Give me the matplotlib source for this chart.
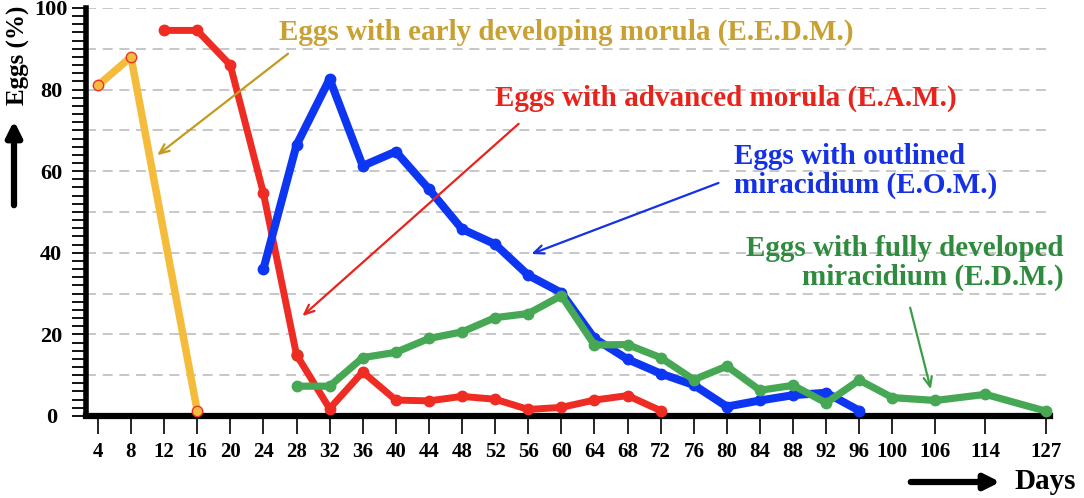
import matplotlib.pyplot as plt
import numpy as np

# dias mostrados no eixo x
day_ticks = [4, 8, 12, 16, 20, 24, 28, 32, 36, 40, 44, 48, 52, 56, 60, 64,
             68, 72, 76, 80, 84, 88, 92, 96, 100, 106, 114, 127]

# E.E.D.M.
eedm_days = [4, 8, 16]
eedm_vals = [81, 88, 1.3]

# E.A.M.
eam_days = [12, 16, 20, 24, 28, 32, 36, 40, 44, 48, 52, 56, 60, 64, 68, 72]
eam_vals = [94.5, 94.5, 86, 54.6, 15, 1.8, 10.8, 3.9, 3.7, 4.8, 4.1, 1.6, 2.1, 3.9, 5.0, 1.3]

# E.O.M.
eom_days = [24, 28, 32, 36, 40, 44, 48, 52, 56, 60, 64, 68, 72, 76, 80, 84, 88, 92, 96]
eom_vals = [36, 66.4, 82.6, 61.3, 64.8, 55.6, 45.8, 42.1, 34.5, 30.2, 19, 13.9, 10.4,
            7.6, 2.3, 3.8, 5.1, 5.7, 1.3]

# E.D.M.
edm_days = [28, 32, 36, 40, 44, 48, 52, 56, 60, 64, 68, 72, 76, 80, 84, 88, 92, 96,
            100, 106, 114, 127]
edm_vals = [7.3, 7.3, 14.3, 15.6, 19, 20.6, 24.1, 25.1, 29.5, 17.4, 17.5, 14.3, 8.9,
            12.2, 6.3, 7.5, 3.2, 8.8, 4.5, 3.8, 5.3, 1.2]

# espacamento entre marcas (os ultimos dias ficam mais apertados)
tick_gap = [0] + [1] * 24 + [1.3, 1.51, 1.82]
tick_pos = np.cumsum(tick_gap)
xpos = dict(zip(day_ticks, tick_pos))

serif = 'Liberation Serif'

fig = plt.figure(figsize=(10.84, 4.98), dpi=100)
ax = fig.add_axes([0.0793, 0.1647, 0.889, 0.8193])

ax.set_xlim(-0.36, tick_pos[-1] + 0.12)
ax.set_ylim(0, 100)

# grade tracejada
for g in range(10, 101, 10):
    ax.axhline(g, color='#bdbdbd', lw=1.2, ls=(0, (6, 4)), zorder=0)

series = [
    (eedm_days, eedm_vals, '#F5BC3C', '#E8332A', 5.4),
    (eam_days, eam_vals, '#EE2C24', '#EE2C24', 5.0),
    (eom_days, eom_vals, '#0D36F2', '#0D36F2', 5.8),
    (edm_days, edm_vals, '#46A854', '#46A854', 5.2),
]
for days, vals, col, edge, lw in series:
    xs = [xpos[d] for d in days]
    ax.plot(xs, vals, color=col, lw=lw, marker='o', ms=7.5, mfc=col, mec=edge,
            mew=1.0, solid_joinstyle='round', solid_capstyle='round',
            clip_on=False, zorder=3)

# ponto verde escondido sob o vermelho no dia 28
ax.plot(xpos[28], 15, 'o', color='#46A854', ms=8, zorder=2)

# eixos
for side in ['top', 'right']:
    ax.spines[side].set_visible(False)
ax.spines['left'].set_linewidth(4.0)
ax.spines['bottom'].set_linewidth(4.5)

ax.set_xticks(tick_pos)
ax.set_xticklabels([str(d) for d in day_ticks])
ax.set_yticks(range(0, 101, 20))
ax.set_yticks(range(0, 101, 2), minor=True)
ax.tick_params(axis='x', direction='out', length=13, width=1.2, pad=6)
ax.tick_params(axis='y', which='both', direction='out', length=10, width=1.3, pad=15)
for lab in ax.get_xticklabels() + ax.get_yticklabels():
    lab.set_family(serif)
    lab.set_fontweight('bold')
    lab.set_fontsize(15)
for lab in ax.get_yticklabels():
    lab.set_fontsize(16)
    lab.set_ha('center')

# rotulos com setas
def px(x, y):
    # converte pixel da figura em coordenada de dados
    return ((x - 98) / 33.04, (416 - y) / 4.08)

notes = [
    ('Eggs with early developing morula (E.E.D.M.)', '#C9A032', '#C49A1E',
     px(565, 32), 'center', px(290, 52), px(155, 157)),
    ('Eggs with advanced morula (E.A.M.)', '#E8231C', '#E8231C',
     px(725, 98), 'center', px(520, 122), px(300, 318)),
    ('Eggs with outlined\nmiracidium (E.O.M.)', '#1431E6', '#1431E6',
     px(733, 171), 'left', px(720, 182), px(528, 255)),
    ('Eggs with fully developed\nmiracidium (E.D.M.)', '#2F8C3E', '#3C9C48',
     px(1062, 263), 'right', px(908, 305), px(930, 392)),
]
for txt, tcol, acol, tpos, ha, a0, a1 in notes:
    ax.text(tpos[0], tpos[1], txt, color=tcol, fontsize=21, fontweight='bold',
            family=serif, ha=ha, va='center', linespacing=1.1, zorder=5)
    ax.annotate('', xy=a1, xytext=a0,
                arrowprops=dict(arrowstyle='->,head_length=0.7,head_width=0.3',
                                color=acol, lw=1.6))

# titulos dos eixos com setas pretas
fig.text(18 / 1084, 1 - 55 / 498, 'Eggs (%)', rotation=90, ha='center', va='center',
         family=serif, fontweight='bold', fontsize=18)
fig.text(1045 / 1084, 1 - 481 / 498, 'Days', ha='center', va='center',
         family=serif, fontweight='bold', fontsize=21)
ax.annotate('', xy=(14, 498 - 118), xytext=(14, 498 - 208), xycoords='figure pixels',
            textcoords='figure pixels',
            arrowprops=dict(arrowstyle='-|>,head_length=0.9,head_width=0.45',
                            color='black', lw=4.5))
ax.annotate('', xy=(1003, 498 - 482), xytext=(908, 498 - 482), xycoords='figure pixels',
            textcoords='figure pixels',
            arrowprops=dict(arrowstyle='-|>,head_length=0.9,head_width=0.45',
                            color='black', lw=4.5))

fig.savefig('out.png', dpi=100)
